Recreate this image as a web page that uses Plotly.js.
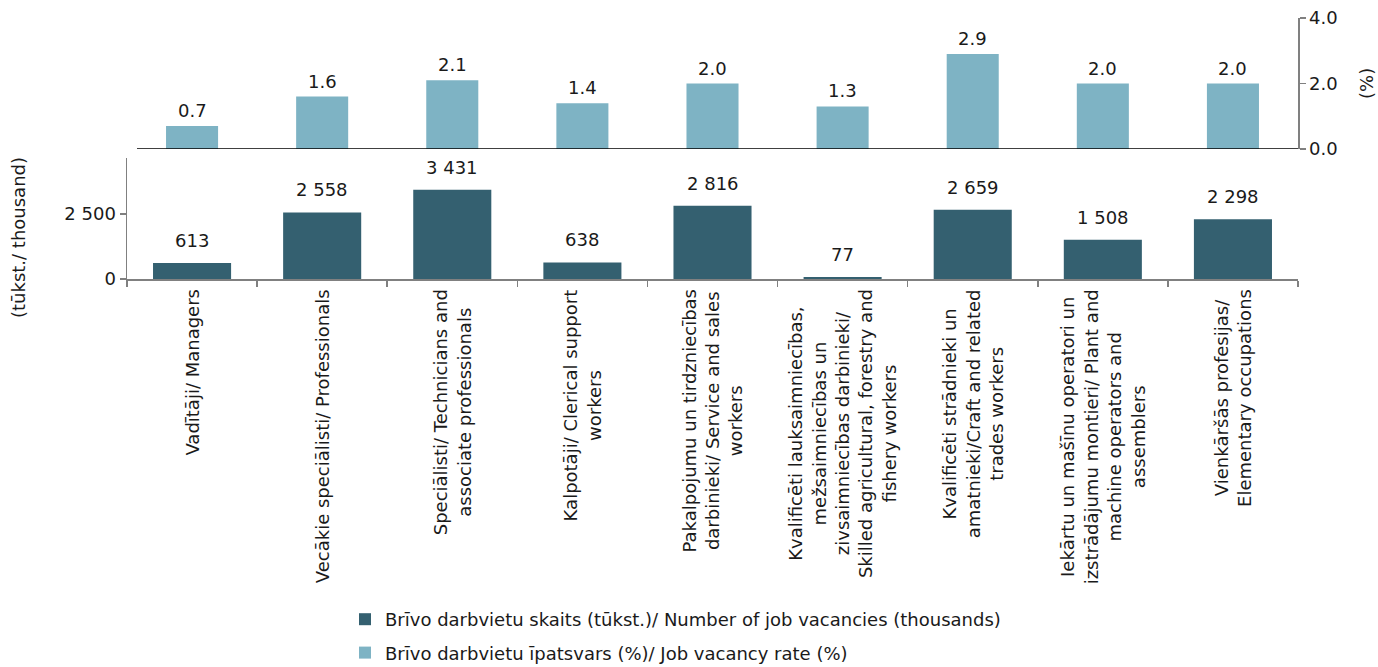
<!DOCTYPE html>
<html>
<head>
<meta charset="utf-8">
<script src="https://cdn.plot.ly/plotly-3.0.1.min.js"></script>
<style>html,body{margin:0;padding:0;background:#fff;}#chart{width:1378px;height:667px;}</style>
</head>
<body>
<div id="chart"></div>
<script>
var categories = [
  "Vadītāji/ Managers",
  "Vecākie speciālisti/ Professionals",
  "Speciālisti/ Technicians and<br>associate professionals",
  "Kalpotāji/ Clerical support<br>workers",
  "Pakalpojumu un tirdzniecības<br>darbinieki/ Service and sales<br>workers",
  "Kvalificēti lauksaimniecības,<br>mežsaimniecības un<br>zivsaimniecības darbinieki/<br>Skilled agricultural, forestry and<br>fishery workers",
  "Kvalificēti strādnieki un<br>amatnieki/Craft and related<br>trades workers",
  "Iekārtu un mašīnu operatori un<br>izstrādājumu montieri/ Plant and<br>machine operators and<br>assemblers",
  "Vienkāršās profesijas/<br>Elementary occupations"
];
var vacancies = [613, 2558, 3431, 638, 2816, 77, 2659, 1508, 2298];
var vacancyRate = [0.7, 1.6, 2.1, 1.4, 2.0, 1.3, 2.9, 2.0, 2.0];
var vacancyTickVals = [0, 2500];
var vacancyTickText = ["0", "2 500"];
var rateTickVals = [0, 2, 4];
var rateTickText = ["0.0", "2.0", "4.0"];
var seriesNames = [
  "Brīvo darbvietu skaits (tūkst.)/ Number of job vacancies (thousands)",
  "Brīvo darbvietu īpatsvars (%)/ Job vacancy rate (%)"
];
var leftTitle = "(tūkst./ thousand)";
var rightTitle = "(%)";

var FONT = "DejaVu Sans, Verdana, sans-serif";
var FS = 18;
var DARK = "#346070";
var LIGHT = "#7eb3c4";
var TXT = "#1a1a1a";

function fmtThousands(v){ return String(v).replace(/\B(?=(\d{3})+(?!\d))/g, " "); }

var keys = categories.map(function(c, i){ return "c" + i; });

var traces = [
  {
    type: "bar", x: keys, y: vacancies, xaxis: "x", yaxis: "y",
    name: seriesNames[0], marker: {color: DARK}, width: 0.6,
    legendgroup: "a", hoverinfo: "none"
  },
  {
    type: "bar", x: keys, y: vacancyRate, xaxis: "x2", yaxis: "y2",
    name: seriesNames[1], marker: {color: LIGHT}, width: 0.4,
    legendgroup: "b", hoverinfo: "none"
  }
];

var L = 127, R = 80, T = 18, B = 388, W = 1378, H = 667;
var pw = W - L - R, ph = H - T - B;
function px2x(p){ return (p - L) / pw; }
function px2y(p){ return (H - B - p) / ph; }

var annotations = [];
keys.forEach(function(k, i){
  annotations.push({
    x: k, y: vacancies[i], xref: "x", yref: "y", text: fmtThousands(vacancies[i]),
    showarrow: false, yanchor: "bottom", xanchor: "center", yshift: 10,
    font: {family: FONT, size: FS, color: TXT}
  });
  annotations.push({
    x: k, y: vacancyRate[i], xref: "x2", yref: "y2", text: vacancyRate[i].toFixed(1),
    showarrow: false, yanchor: "bottom", xanchor: "center", yshift: 3,
    font: {family: FONT, size: FS, color: TXT}
  });
  annotations.push({
    x: k, y: 0, xref: "x", yref: "paper", text: categories[i], textangle: -90,
    showarrow: false, yanchor: "top", xanchor: "center", yshift: -8, align: "center",
    font: {family: FONT, size: FS, color: TXT}
  });
});
annotations.push({
  x: px2x(18), y: px2y(238), xref: "paper", yref: "paper", text: leftTitle, textangle: -90,
  showarrow: false, xanchor: "center", yanchor: "middle",
  font: {family: FONT, size: FS, color: TXT}
});
annotations.push({
  x: px2x(1366), y: px2y(84), xref: "paper", yref: "paper", text: rightTitle, textangle: -90,
  showarrow: false, xanchor: "center", yanchor: "middle",
  font: {family: FONT, size: FS, color: TXT}
});

var layout = {
  width: W, height: H,
  margin: {l: L, r: R, t: T, b: B, autoexpand: false},
  paper_bgcolor: "#fff", plot_bgcolor: "rgba(0,0,0,0)",
  font: {family: FONT, size: FS, color: TXT},
  showlegend: true,
  xaxis: {
    domain: [0, 1], anchor: "y", type: "category",
    showticklabels: false, showgrid: false, zeroline: false,
    showline: true, linecolor: "#808080", linewidth: 1.5,
    ticks: "outside", tickson: "boundaries", ticklen: 6, tickcolor: "#808080", tickwidth: 1.5
  },
  yaxis: {
    domain: [0, 0.4636], anchor: "x", range: [0, 4654],
    tickvals: vacancyTickVals, ticktext: vacancyTickText,
    showgrid: false, zeroline: false, showline: true, linecolor: "#808080", linewidth: 1.5,
    ticks: "outside", ticklen: 6, tickcolor: "#808080", tickwidth: 1.5,
    tickfont: {family: FONT, size: FS, color: TXT}
  },
  xaxis2: {
    domain: [0, 1], anchor: "y2", type: "category", matches: "x",
    showticklabels: false, showgrid: false, zeroline: false,
    showline: false, ticks: ""
  },
  yaxis2: {
    domain: [0.498, 1], anchor: "x2", side: "right", range: [0, 4],
    tickvals: rateTickVals, ticktext: rateTickText,
    showgrid: false, zeroline: false, showline: true, linecolor: "#808080", linewidth: 1.5,
    ticks: "outside", ticklen: 6, tickcolor: "#808080", tickwidth: 1.5,
    tickfont: {family: FONT, size: FS, color: TXT}
  },
  shapes: [{
    type: "line", xref: "paper", yref: "y2", x0: px2x(137), x1: 1, y0: 0, y1: 0,
    line: {color: "#000", width: 1.5}
  }],
  legend: {
    x: px2x(345), y: px2y(601), xanchor: "left", yanchor: "top",
    orientation: "v", traceorder: "grouped", tracegroupgap: 7,
    font: {family: FONT, size: FS, color: TXT}, itemwidth: 30, bgcolor: "rgba(0,0,0,0)"
  },
  annotations: annotations
};

Plotly.newPlot("chart", traces, layout, {displayModeBar: false, staticPlot: true});
</script>
</body>
</html>
